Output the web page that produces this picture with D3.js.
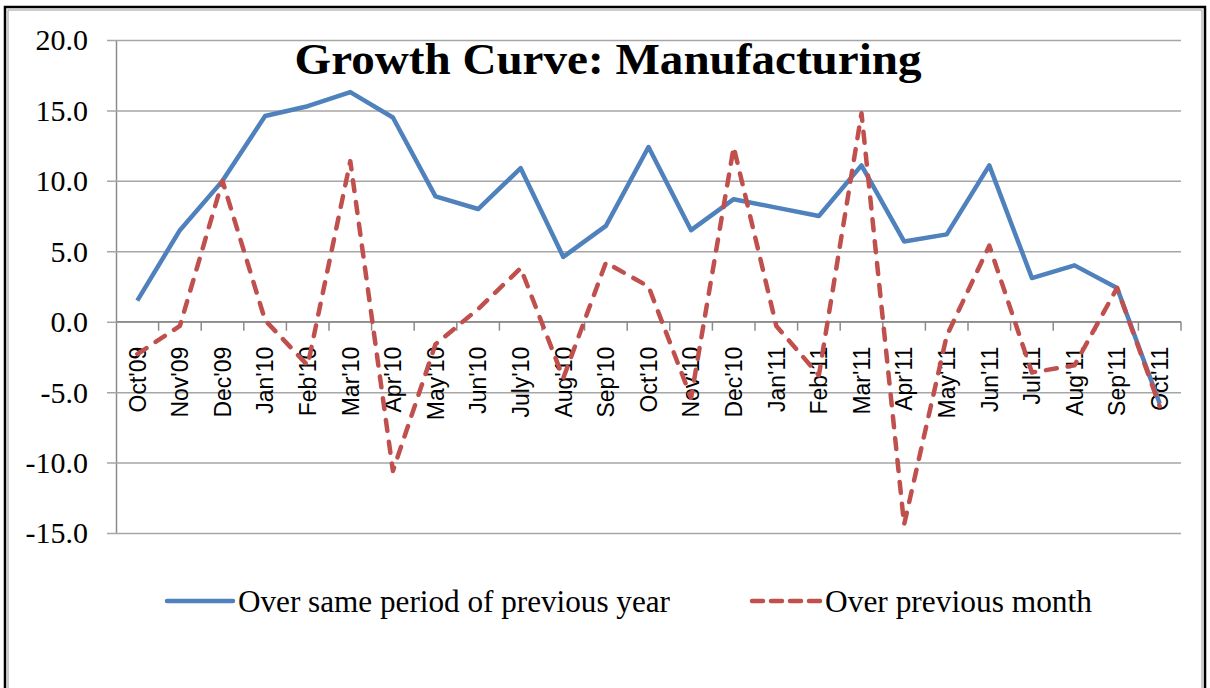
<!DOCTYPE html>
<html>
<head>
<meta charset="utf-8">
<script src="https://cdn.jsdelivr.net/npm/d3@7"></script>
<style>
  body { margin: 0; background: #fff; }
  .serif { font-family: "Liberation Serif", "Times New Roman", serif; }
</style>
</head>
<body>
<div id="chart"></div>
<script>
// Chart data
const months = ["Oct'09", "Nov'09", "Dec'09", "Jan'10", "Feb'10", "Mar'10", "Apr'10", "May'10",
    "Jun'10", "July'10", "Aug'10", "Sep'10", "Oct'10", "Nov'10", "Dec'10", "Jan'11", "Feb'11",
    "Mar'11", "Apr'11", "May'11", "Jun'11", "Jul'11", "Aug'11", "Sep'11", "Oct'11"];
const overYear = [1.5, 6.5, 10.0, 14.6, 15.3, 16.3, 14.5, 8.9, 8.0, 10.9, 4.6, 6.8, 12.4,
    6.5, 8.7, 8.1, 7.5, 11.1, 5.7, 6.2, 11.1, 3.1, 4.0, 2.4, -5.8];
const overMonth = [-2.3, -0.3, 10.0, 0.1, -3.1, 11.4, -10.6, -1.6, 0.9, 3.8, -4.0, 4.2, 2.5,
    -5.4, 12.4, -0.3, -3.8, 14.8, -14.4, -1.0, 5.4, -3.6, -3.1, 2.4, -6.0];
const yTicks = [20, 15, 10, 5, 0, -5, -10, -15];
const seriesNames = ["Over same period of previous year", "Over previous month"];

const W = 1210, H = 688;
const plot = { left: 116, right: 1181, top: 40, bottom: 533 };

const svg = d3.select('#chart')
    .append('svg')
    .attr('width', W)
    .attr('height', H);

// outer frame (double line, open at the bottom)
svg.append('rect')
    .attr('x', 5).attr('y', 7)
    .attr('width', W - 10).attr('height', H + 20)
    .attr('fill', 'none').attr('stroke', '#000').attr('stroke-width', 2.5);
svg.append('rect')
    .attr('x', 8).attr('y', 10)
    .attr('width', W - 16).attr('height', H + 20)
    .attr('fill', 'none').attr('stroke', '#9a9a9a').attr('stroke-width', 1);

const xScale = d3.scaleBand().domain(months).range([plot.left, plot.right]);
const yScale = d3.scaleLinear().domain([-15, 20]).range([plot.bottom, plot.top]);

// gridlines + y axis (plain hyphen for negatives, like the original)
const yAxis = svg.append('g')
    .attr('transform', 'translate(' + plot.left + ',0)')
    .call(d3.axisLeft(yScale)
        .tickValues(yTicks)
        .tickSize(-(plot.right - plot.left))
        .tickPadding(28)
        .tickFormat(d => d.toFixed(1)));
yAxis.attr('font-family', null);
yAxis.select('.domain').attr('stroke', '#8c8c8c').attr('stroke-width', 1.5)
    .attr('d', 'M0.5,' + plot.top + 'V' + plot.bottom);
yAxis.selectAll('.tick line')
    .attr('stroke', '#a6a6a6').attr('stroke-width', 1.5)
    .attr('x1', -9).attr('x2', plot.right - plot.left);
yAxis.selectAll('.tick text')
    .attr('class', 'serif')
    .style('font-size', '30px')
    .attr('fill', '#000')
    .attr('dy', '0.33em');

// category axis on the zero line
const xAxis = svg.append('g')
    .attr('transform', 'translate(0,' + yScale(0) + ')');
xAxis.append('line')
    .attr('x1', plot.left).attr('x2', plot.right)
    .attr('stroke', '#8c8c8c').attr('stroke-width', 1.5);
xAxis.selectAll('.cat-tick')
    .data(months)
    .join('line')
    .attr('class', 'cat-tick')
    .attr('x1', d => xScale(d) + xScale.bandwidth())
    .attr('x2', d => xScale(d) + xScale.bandwidth())
    .attr('y1', 0).attr('y2', 9)
    .attr('stroke', '#8c8c8c').attr('stroke-width', 1.5);
xAxis.selectAll('.cat-label')
    .data(months)
    .join('text')
    .attr('class', 'cat-label')
    .attr('transform', d => 'translate(' + (xScale(d) + xScale.bandwidth() / 2) + ',25) rotate(-90)')
    .attr('text-anchor', 'end')
    .attr('dy', '0.36em')
    .attr('font-family', '"Liberation Sans", Arial, sans-serif')
    .attr('font-size', 23)
    .attr('fill', '#000')
    .text(d => d);

// lines
const cx = i => xScale(months[i]) + xScale.bandwidth() / 2;
const line = d3.line().x((d, i) => cx(i)).y(d => yScale(d));

svg.append('path')
    .datum(overYear)
    .attr('d', line)
    .attr('fill', 'none')
    .attr('stroke', '#4f81bd')
    .attr('stroke-width', 4.5)
    .attr('stroke-linejoin', 'round');

svg.append('path')
    .datum(overMonth)
    .attr('d', line)
    .attr('fill', 'none')
    .attr('stroke', '#c0504d')
    .attr('stroke-width', 4.5)
    .attr('stroke-linejoin', 'round')
    .attr('stroke-linecap', 'round')
    .attr('stroke-dasharray', '11,11');

// title
svg.append('text')
    .attr('class', 'serif')
    .attr('x', 608).attr('y', 74)
    .attr('text-anchor', 'middle')
    .attr('font-weight', 'bold')
    .attr('font-size', 44)
    .attr('textLength', 627)
    .attr('lengthAdjust', 'spacingAndGlyphs')
    .text('Growth Curve: Manufacturing');

// legend
const legend = [
    { x: 165, len: 70, textLen: 432, color: '#4f81bd', dash: null },
    { x: 750, len: 72, textLen: 267, color: '#c0504d', dash: '11,8' }
];
const lg = svg.append('g').selectAll('g')
    .data(legend)
    .join('g')
    .attr('transform', d => 'translate(' + d.x + ',601)');
lg.append('line')
    .attr('x1', 2).attr('x2', d => d.len - 2)
    .attr('stroke', d => d.color)
    .attr('stroke-width', 4.5)
    .attr('stroke-linecap', 'round')
    .attr('stroke-dasharray', d => d.dash);
lg.append('text')
    .attr('class', 'serif')
    .attr('x', d => d.len + 3)
    .attr('y', 11)
    .attr('font-size', 32)
    .attr('textLength', d => d.textLen)
    .attr('lengthAdjust', 'spacingAndGlyphs')
    .text((d, i) => seriesNames[i]);
</script>
</body>
</html>
